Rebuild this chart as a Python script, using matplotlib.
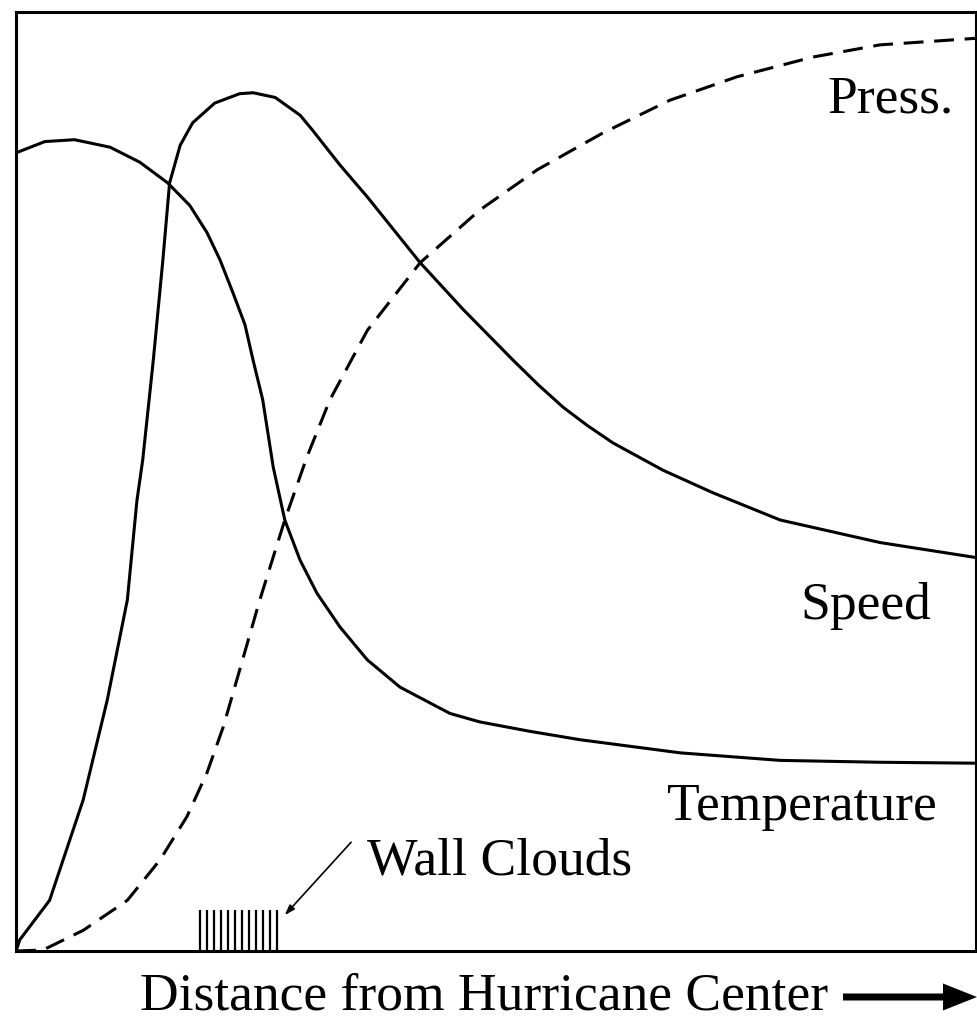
import matplotlib.pyplot as plt
import matplotlib.patches as mpatches
import numpy as np

plt.rcParams['font.family'] = ['Liberation Serif', 'DejaVu Serif']

# distance from centre (0-100, arbitrary units) and profile values (0-100)
temp_x = [0, 3.0, 6.1, 9.8, 12.9, 15.8, 18.1, 19.9, 21.25, 22.6, 23.85, 24.7, 25.7,
          26.8, 28.0, 29.6, 31.35, 33.75, 36.6, 40.0, 45.2, 48.3, 53.5, 58.75, 69.2,
          79.6, 90.0, 100]
temp_y = [85.0, 86.2, 86.4, 85.6, 84.0, 81.8, 79.4, 76.5, 73.6, 70.1, 66.7, 62.9, 58.7,
          51.5, 45.9, 41.6, 38.1, 34.5, 31.0, 28.1, 25.3, 24.4, 23.4, 22.5, 21.1,
          20.3, 20.1, 20.0]

speed_x = [0, 0.4, 3.5, 7.0, 9.5, 11.6, 12.6, 13.2, 14.3, 15.3, 15.7, 16.0, 17.1, 18.4,
           20.7, 23.3, 24.7, 27.0, 29.6, 30.9, 33.75, 36.6, 42.1, 46.6, 51.8, 54.4,
           57.0, 59.6, 62.2, 67.4, 72.6, 79.6, 90.0, 100]
speed_y = [0, 1.2, 5.4, 16.1, 26.7, 37.4, 48.0, 52.3, 62.9, 73.6, 78.3, 81.8, 85.8, 88.2,
           90.3, 91.3, 91.4, 90.9, 89.0, 87.4, 83.7, 80.3, 73.3, 68.3, 62.9, 60.3,
           57.9, 55.9, 54.1, 51.2, 48.8, 45.9, 43.5, 41.9]

press_x = [0, 2.8, 7.0, 11.6, 15.0, 17.8, 19.9, 21.6, 23.6, 25.4, 28.0, 30.3, 32.7,
           36.6, 42.1, 48.3, 54.3, 61.1, 68.1, 75.1, 83.0, 90.0, 100]
press_y = [0, 0.1, 2.2, 5.4, 9.7, 14.3, 19.0, 23.9, 31.0, 37.4, 45.9, 52.6, 58.7,
           66.1, 73.3, 78.9, 83.2, 87.1, 90.6, 93.1, 95.2, 96.5, 97.2]

# eyewall (wall clouds) band
wall_start, wall_end = 19.2, 27.2

fig = plt.figure(figsize=(9.77, 10.17), dpi=100)
ax = fig.add_axes([16/977, 66/1017, 960/977, 939/1017])
ax.set_xlim(0, 100)
ax.set_ylim(0, 100)

ax.plot(temp_x, temp_y, color='black', lw=2.2, solid_joinstyle='round')
ax.plot(speed_x, speed_y, color='black', lw=2.2, solid_joinstyle='round')
ax.plot(press_x, press_y, color='black', lw=2.2, dashes=(6.5, 3.5))

# hatch marking the wall clouds
ax.vlines(np.linspace(wall_start, wall_end, 12), 0, 4.4, color='black', lw=1.6)

ax.annotate('', xy=(wall_end + 0.6, 3.6), xytext=(35.1, 11.8),
            arrowprops=dict(arrowstyle='-|>,head_length=0.6,head_width=0.2',
                            color='black', lw=1.2))

ax.text(36.6, 8.1, 'Wall Clouds', fontsize=38.5, va='baseline', ha='left')
ax.text(84.5, 89.35, 'Press.', fontsize=38.5, va='baseline', ha='left')
ax.text(81.7, 35.4, 'Speed', fontsize=38.5, va='baseline', ha='left')
ax.text(67.8, 13.95, 'Temperature', fontsize=38.5, va='baseline', ha='left')

ax.set_xticks([])
ax.set_yticks([])
for side in ['left', 'bottom', 'top']:
    ax.spines[side].set_linewidth(2.2)
ax.spines['right'].set_linewidth(1.5)

fig.text(140/977, 8/1017, 'Distance from Hurricane Center', fontsize=38.5,
         va='baseline', ha='left')
arrow = mpatches.FancyArrow(843/977, 20/1017, (977 - 843)/977, 0,
                            width=7/1017, head_width=27/1017,
                            head_length=34/977, length_includes_head=True,
                            transform=fig.transFigure, color='black', lw=0)
fig.add_artist(arrow)

plt.savefig('out.png', dpi=100)
